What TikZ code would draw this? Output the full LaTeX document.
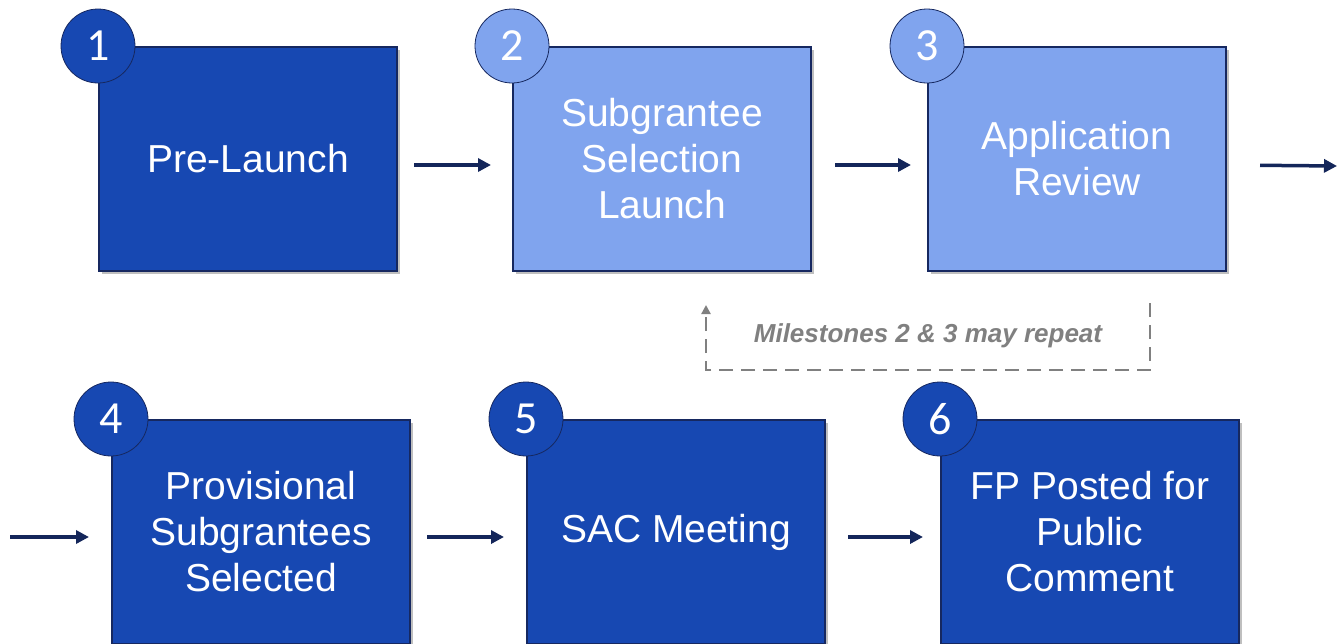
\documentclass[tikz,border=0pt]{standalone}
\usepackage{fontspec}
\setmainfont{Liberation Sans}
\newfontfamily\numfont{Carlito}
\usetikzlibrary{arrows.meta,shadows}
\definecolor{mdark}{RGB}{23,72,178}
\definecolor{mlight}{RGB}{128,164,238}
\definecolor{mborder}{RGB}{22,40,96}
\definecolor{marrow}{RGB}{20,38,90}
\definecolor{mgray}{RGB}{128,128,128}
\tikzset{
  milestone/.style={draw=mborder, line width=2pt, fill=mdark, text=white,
    minimum width=298pt, minimum height=224pt, inner sep=0pt, align=center,
    font=\fontsize{39}{46}\selectfont,
    drop shadow={shadow xshift=3pt, shadow yshift=-3pt, opacity=0.25, fill=black}},
  pending/.style={milestone, fill=mlight},
  badge/.style={circle, draw=mborder, line width=0.8pt, fill=mdark, text=white,
    minimum size=74pt, inner sep=0pt, font=\numfont\fontsize{46}{46}\selectfont},
  flow/.style={-{Triangle[length=13pt,width=13pt]}, draw=marrow, line width=3.5pt},
  repeatline/.style={draw=mgray, line width=2.5pt, dash pattern=on 14pt off 8pt}
}
\begin{document}
\begin{tikzpicture}[x=1pt, y=-1pt]
    \useasboundingbox (0,0) rectangle (1338,643);

    \node[milestone] (m1) at (248,159) {Pre-Launch};
    \node[pending] (m2) at (662,159) {Subgrantee\\Selection\\Launch};
    \node[pending] (m3) at (1077,159) {Application\\Review};
    \node[milestone] (m4) at (261,532) {Provisional\\Subgrantees\\Selected};
    \node[milestone] (m5) at (676,532) {SAC Meeting};
    \node[milestone] (m6) at (1090,532) {FP Posted for\\Public\\Comment};

    \node[badge] (n1) at (m1.north west) {1};
    \node[badge, fill=mlight] (n2) at (m2.north west) {2};
    \node[badge, fill=mlight] (n3) at (m3.north west) {3};
    \node[badge] (n4) at (m4.north west) {4};
    \node[badge] (n5) at (m5.north west) {5};
    \node[badge] (n6) at (m6.north west) {6};

    \coordinate (out) at (1337,166);
    \coordinate (in) at (10,537);

    \draw[flow, shorten <=16pt, shorten >=21pt] ([yshift=-6pt]m1.east) -- ([yshift=-6pt]m2.west);
    \draw[flow, shorten <=23pt, shorten >=16pt] ([yshift=-6pt]m2.east) -- ([yshift=-6pt]m3.west);
    \draw[flow, shorten <=33pt] ([yshift=-6pt]m3.east) -- (out);
    \draw[flow, shorten >=22pt] (in) -- ([yshift=-5pt]m4.west);
    \draw[flow, shorten <=16pt, shorten >=22pt] ([yshift=-5pt]m4.east) -- ([yshift=-5pt]m5.west);
    \draw[flow, shorten <=22pt, shorten >=17pt] ([yshift=-5pt]m5.east) -- ([yshift=-5pt]m6.west);

    % repeat loop back to milestone 2
    \coordinate (r3) at (1150,303);
    \coordinate (rc) at (1150,370);
    \coordinate (r2) at (706,305);
    \draw[repeatline, -{Triangle[length=9pt,width=9pt]}] (r3) -- (rc) -| (r2);
    \node[text=mgray, font=\fontsize{26}{26}\selectfont\bfseries\itshape] (note) at (928,336) {Milestones 2 \& 3 may repeat};
\end{tikzpicture}
\end{document}
